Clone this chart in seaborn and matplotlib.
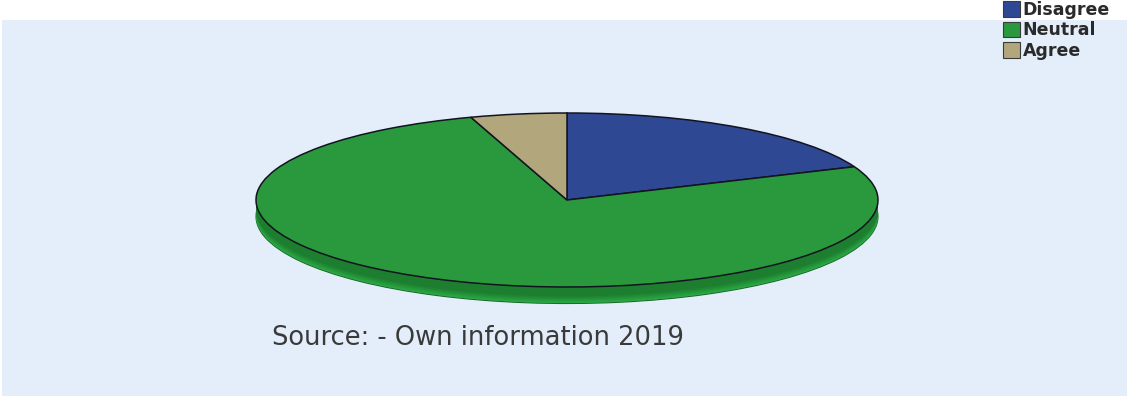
import numpy as np
import matplotlib
matplotlib.use("Agg")
import matplotlib.pyplot as plt
import seaborn as sns
from matplotlib.patches import Patch
from matplotlib.colors import to_rgb

# Survey responses (counts) shown as a tilted 3-D style pie
categories = ["Disagree", "Neutral", "Agree"]
responses = [15, 61, 4]
top_colors = ["#2f4894", "#2a993d", "#b2a77c"]
side_dark = ["#22356e", "#1d7e30", "#8f865f"]
side_light = ["#3050a0", "#2cac46", "#c2b789"]
source_note = "Source: - Own information 2019"

sns.set_theme(style="white")
plt.rcParams["font.family"] = ["DejaVu Sans"]

fig = plt.figure(figsize=(11.29, 3.96), dpi=100)
fig.patch.set_facecolor("white")
ax = fig.add_axes([2 / 1129, 0, 1125 / 1129, 376 / 396])


def mix(a, b, t):
    a, b = np.array(to_rgb(a)), np.array(to_rgb(b))
    return tuple(a * (1 - t) + b * t)


# side walls: stacked copies of the pie, lighter toward the bottom rim
depth = 0.19
n_layers = 28
for i, d in enumerate(np.linspace(depth, 0.0, n_layers)):
    t = i / (n_layers - 1)
    cols = [mix(l, k, min(1.0, t * 2.2)) for l, k in zip(side_light, side_dark)]
    ax.pie(responses, colors=cols, startangle=90, counterclock=False,
           center=(0, -d), radius=1,
           wedgeprops=dict(linewidth=0.8 if i == 0 else 0,
                           edgecolor="#1d6b2c"))

# top face
wedges, _ = ax.pie(responses, colors=top_colors, startangle=90,
                   counterclock=False, center=(0, 0), radius=1,
                   wedgeprops=dict(edgecolor="#141420", linewidth=1.1))

ax.set_aspect("auto")
ax.set_xlim(-565 / 311, 560 / 311)
ax.set_ylim(-196 / 87, 180 / 87)
ax.set_frame_on(True)
ax.set_facecolor("#e3eefa")
for s in ax.spines.values():
    s.set_visible(False)
ax.set_xticks([])
ax.set_yticks([])

fig.text(272 / 1129, (396 - 338) / 396, source_note, ha="left", va="center",
         fontsize=18.5, color="#3a3a3a")

handles = [Patch(facecolor=c, edgecolor="#3a3a3a", linewidth=0.8, label=l)
           for c, l in zip(top_colors, categories)]
leg = fig.legend(handles=handles, loc="upper left",
                 bbox_to_anchor=(1002 / 1129, 1.0), frameon=False,
                 prop=dict(size=12.5, weight="bold"),
                 handlelength=1.0, handleheight=1.0, handletextpad=0.15,
                 labelspacing=0.15, borderaxespad=0, borderpad=0.05,
                 labelcolor="#2a2a2a")

fig.savefig("out.png", dpi=100, facecolor="white")
